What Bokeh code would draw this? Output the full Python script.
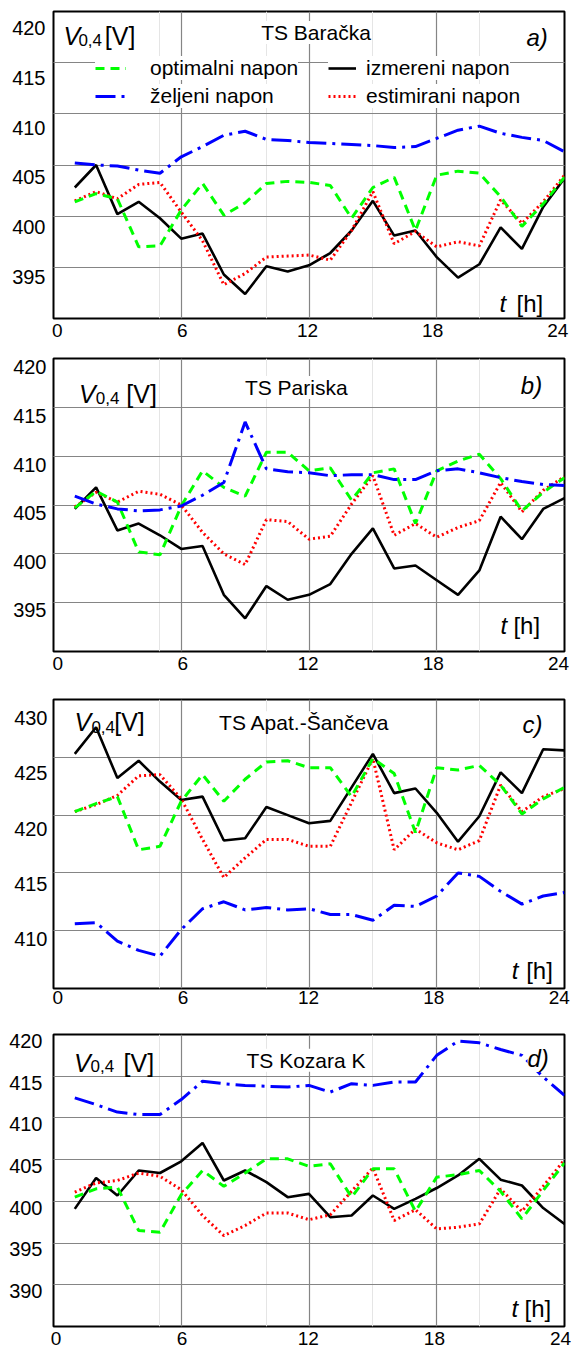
from bokeh.plotting import figure
from bokeh.models import Range1d, LinearAxis, Grid, FixedTicker, Label, Legend, LegendItem
from bokeh.layouts import column
from bokeh.embed import file_html
from bokeh.resources import INLINE

hours = list(range(1, 25))
x_ticks = [0, 6, 12, 18, 24]
legend_labels = ["optimalni napon", "izmereni napon", "željeni napon", "estimirani napon"]

# Panel a) TS Baračka
a_title = "TS Baračka"
a_yticks = [395, 400, 405, 410, 415, 420]
a_optimalni = [401.4, 402.2, 401.7, 397.0, 397.1, 400.6, 403.2, 400.1, 401.3, 403.2, 403.4, 403.3,
               403.0, 399.8, 402.8, 403.8, 398.6, 404.0, 404.4, 404.2, 401.9, 399.0, 401.2, 403.8]
a_izmereni = [402.8, 405.0, 400.2, 401.4, 399.8, 397.8, 398.3, 394.3, 392.4, 395.1, 394.6, 395.2,
              396.4, 398.6, 401.5, 398.1, 398.6, 396.0, 394.0, 395.3, 398.9, 396.8, 400.9, 403.7]
a_zeljeni = [405.2, 405.0, 404.9, 404.5, 404.2, 405.8, 406.8, 407.9, 408.3, 407.5, 407.4, 407.2,
             407.1, 407.0, 406.9, 406.7, 406.8, 407.6, 408.4, 408.8, 408.1, 407.7, 407.4, 406.3]
a_estimirani = [401.5, 402.4, 401.7, 403.1, 403.3, 400.4, 397.6, 393.3, 394.4, 396.0, 396.1, 396.2,
                395.7, 398.6, 402.4, 397.3, 398.5, 397.0, 397.5, 397.1, 401.6, 399.3, 401.4, 404.0]

# Panel b) TS Pariska
b_title = "TS Pariska"
b_yticks = [395, 400, 405, 410, 415, 420]
b_optimalni = [404.7, 406.4, 405.3, 400.2, 399.9, 404.9, 408.5, 406.8, 405.9, 410.4, 410.4, 408.5,
               408.8, 405.5, 408.3, 408.7, 403.1, 408.5, 409.5, 410.2, 407.7, 404.4, 406.3, 407.8]
b_izmereni = [404.6, 406.8, 402.4, 403.1, 401.9, 400.5, 400.8, 395.8, 393.4, 396.7, 395.3, 395.8,
              396.9, 400.0, 402.6, 398.5, 398.8, 397.3, 395.8, 398.3, 403.8, 401.5, 404.6, 405.7]
b_zeljeni = [405.9, 405.1, 404.6, 404.4, 404.5, 404.9, 406.0, 407.3, 413.5, 408.7, 408.4, 408.3,
             408.0, 408.1, 408.1, 407.6, 407.6, 408.5, 408.7, 408.3, 407.8, 407.4, 407.1, 407.0]
b_estimirani = [404.8, 406.3, 405.3, 406.4, 406.1, 405.0, 402.2, 400.0, 398.9, 403.5, 403.3, 401.5,
                401.8, 405.1, 408.0, 401.9, 403.1, 401.7, 402.7, 403.4, 407.3, 404.3, 406.5, 407.9]

# Panel c) TS Apat.-Šančeva
c_title = "TS Apat.-Šančeva"
c_yticks = [410, 415, 420, 425, 430]
c_optimalni = [420.3, 421.0, 421.6, 417.0, 417.3, 421.2, 423.5, 421.2, 423.1, 424.6, 424.7, 424.1,
               424.1, 421.6, 424.9, 423.6, 418.5, 424.1, 423.9, 424.3, 422.6, 420.1, 421.4, 422.4]
c_izmereni = [425.3, 427.6, 423.2, 424.7, 422.9, 421.3, 421.6, 417.8, 418.0, 420.7, 420.0, 419.3,
              419.5, 422.4, 425.3, 421.9, 422.3, 420.2, 417.7, 419.9, 423.7, 421.9, 425.7, 425.6]
c_zeljeni = [410.6, 410.7, 409.1, 408.3, 407.8, 410.1, 411.9, 412.5, 411.8, 412.0, 411.8, 411.9,
             411.4, 411.4, 410.9, 412.2, 412.1, 413.0, 415.0, 414.7, 413.4, 412.3, 413.0, 413.3]
c_estimirani = [420.3, 420.9, 421.7, 423.4, 423.5, 421.4, 417.9, 414.6, 416.3, 417.9, 417.9, 417.3,
                417.3, 421.1, 424.9, 417.0, 418.8, 417.6, 417.0, 417.8, 422.6, 420.3, 421.6, 422.3]

# Panel d) TS Kozara K
d_title = "TS Kozara K"
d_yticks = [390, 395, 400, 405, 410, 415, 420]
d_optimalni = [400.5, 401.5, 401.7, 396.5, 396.3, 400.8, 403.7, 401.8, 403.4, 405.1, 405.1, 404.2,
               404.5, 400.5, 403.9, 403.9, 398.8, 402.9, 403.2, 403.7, 401.2, 397.9, 401.3, 404.6]
d_izmereni = [399.1, 402.8, 400.7, 403.7, 403.4, 404.8, 407.0, 402.5, 403.7, 402.3, 400.5, 400.9,
              398.1, 398.3, 400.7, 399.1, 400.3, 401.6, 403.1, 405.1, 402.6, 401.9, 399.2, 397.3]
d_zeljeni = [412.4, 411.6, 410.7, 410.4, 410.4, 412.2, 414.4, 414.1, 413.9, 413.8, 413.7, 413.9,
             413.1, 414.1, 413.9, 414.3, 414.3, 417.5, 419.2, 419.0, 418.2, 417.5, 414.9, 412.7]
d_estimirani = [401.1, 402.2, 402.5, 403.4, 403.0, 401.4, 398.3, 395.9, 397.1, 398.6, 398.6, 397.8,
                398.4, 401.2, 404.0, 397.7, 399.0, 396.7, 396.9, 397.3, 401.5, 398.8, 401.8, 405.0]

FONT = "Liberation Sans"

panels = [
    dict(title=a_title, letter="a)", opt=a_optimalni, meas=a_izmereni, des=a_zeljeni, est=a_estimirani,
         yr=(390, 420), yticks=a_yticks, xl=(-0.176, 24.32), yl=(390.87, 421.63),
         height=345, bl=53, br=7, bt=11, bb=27, xs=5, ys=8,
         title_xy=(12.33, 417.95), letter_xy=(22.21, 417.46),
         v_xy=(0.47, 417.63), sub_xy=(1.17, 417.24), br_xy=(2.41, 417.63), br_text="[V]",
         t_xy=(20.95, 391.48), h_xy=(21.75, 391.48), legend=True),
    dict(title=b_title, letter="b)", opt=b_optimalni, meas=b_izmereni, des=b_zeljeni, est=b_estimirani,
         yr=(390, 420), yticks=b_yticks, xl=(-0.2, 24.29), yl=(390.78, 420.92),
         height=333, bl=51, br=8, bt=13, bb=27, xs=5, ys=7,
         title_xy=(11.4, 417.03), letter_xy=(21.95, 417.21),
         v_xy=(1.2, 416.39), sub_xy=(1.99, 415.98), br_xy=(3.42, 416.39), br_text="[V]",
         t_xy=(20.99, 392.67), h_xy=(21.6, 392.67), legend=False),
    dict(title=c_title, letter="c)", opt=c_optimalni, meas=c_izmereni, des=c_zeljeni, est=c_estimirani,
         yr=(405, 430), yticks=c_yticks, xl=(-0.2, 24.25), yl=(405.58, 431.63),
         height=334, bl=49, br=10, bt=21, bb=24, xs=2, ys=6,
         title_xy=(11.78, 427.99), letter_xy=(22.03, 427.84),
         v_xy=(0.99, 428.02), sub_xy=(1.78, 427.59), br_xy=(2.85, 428.02), br_text="[V]",
         t_xy=(21.52, 406.58), h_xy=(22.2, 406.58), legend=False),
    dict(title=d_title, letter="d)", opt=d_optimalni, meas=d_izmereni, des=d_zeljeni, est=d_estimirani,
         yr=(385, 420), yticks=d_yticks, xl=(-0.12, 24.19), yl=(385.7, 420.8),
         height=341, bl=48, br=11, bt=22, bb=27, xs=5, ys=11,
         title_xy=(11.86, 416.92), letter_xy=(22.26, 417.13),
         v_xy=(0.96, 416.56), sub_xy=(1.74, 416.2), br_xy=(3.29, 416.56), br_text="[V]",
         t_xy=(21.51, 387.12), h_xy=(22.12, 387.12), legend=False),
]


def style_axis(ax, standoff, size):
    ax.axis_line_color = None
    ax.major_tick_line_color = None
    ax.minor_tick_line_color = None
    ax.major_tick_in = 0
    ax.major_tick_out = 0
    ax.major_label_standoff = standoff
    ax.major_label_text_font = FONT
    ax.major_label_text_font_size = size
    ax.major_label_text_color = "black"


def add_label(p, xy, text, size, style="normal", align="left", baseline="middle", bg=None):
    kw = {}
    if bg:
        kw = dict(background_fill_color=bg, background_fill_alpha=1.0)
    p.add_layout(Label(x=xy[0], y=xy[1], text=text, text_font=FONT, text_font_size=size,
                       text_font_style=style, text_align=align, text_baseline=baseline,
                       text_color="black", **kw))


def make_panel(c):
    p = figure(width=575, height=c["height"], x_range=Range1d(0, 24), y_range=Range1d(*c["yr"]),
               x_axis_location=None, y_axis_location=None, toolbar_location=None,
               output_backend="svg", min_border_left=c["bl"], min_border_right=c["br"],
               min_border_top=c["bt"], min_border_bottom=c["bb"])
    p.outline_line_color = "black"
    p.outline_line_width = 2
    p.outline_line_alpha = 1.0
    p.background_fill_color = "white"
    p.border_fill_color = "white"

    p.extra_x_ranges = {"xl": Range1d(*c["xl"])}
    p.extra_y_ranges = {"yl": Range1d(*c["yl"])}

    grid_kw = dict(grid_line_color="#858585", grid_line_width=1.2)
    p.add_layout(Grid(dimension=0, ticker=FixedTicker(ticks=x_ticks), **grid_kw))
    p.add_layout(Grid(dimension=1, ticker=FixedTicker(ticks=c["yticks"]), **grid_kw))

    xa = LinearAxis(x_range_name="xl", ticker=FixedTicker(ticks=x_ticks))
    style_axis(xa, c["xs"], "19px")
    p.add_layout(xa, "below")
    ya = LinearAxis(y_range_name="yl", ticker=FixedTicker(ticks=c["yticks"]))
    style_axis(ya, c["ys"], "20px")
    p.add_layout(ya, "left")

    r_meas = p.line(hours, c["meas"], line_color="black", line_width=2.6)
    r_est = p.line(hours, c["est"], line_color="#FF0000", line_width=3, line_dash="2 3")
    r_opt = p.line(hours, c["opt"], line_color="#00FF00", line_width=3, line_dash="9 6")
    r_des = p.line(hours, c["des"], line_color="#0000FF", line_width=3, line_dash="20 6 3 6")

    add_label(p, c["title_xy"], c["title"], "21px", align="center", bg="white")
    add_label(p, c["letter_xy"], c["letter"], "24px", style="italic", bg="white")
    add_label(p, c["v_xy"], "V", "25px", style="italic", baseline="alphabetic")
    add_label(p, c["sub_xy"], "0,4", "17px", baseline="alphabetic")
    add_label(p, c["br_xy"], c["br_text"], "25px", baseline="alphabetic")
    add_label(p, c["t_xy"], "t", "24px", style="italic")
    add_label(p, c["h_xy"], "[h]", "24px")

    if c["legend"]:
        rs = [r_opt, r_meas, r_des, r_est]
        specs = [(42, 238, 31, 24), (275, 238, 28, 10), (42, 210, 31, 24), (275, 210, 28, 10)]
        for lab, r, (vx, vy, gw, st) in zip(legend_labels, rs, specs):
            leg = Legend(items=[LegendItem(label=lab, renderers=[r])], location=(vx, vy),
                         glyph_width=gw, glyph_height=24, label_height=24, label_standoff=st,
                         padding=0, margin=0, spacing=0, border_line_color=None,
                         background_fill_color="white", background_fill_alpha=1.0,
                         label_text_font=FONT, label_text_font_size="21px",
                         label_text_color="black")
            p.add_layout(leg)
    return p


layout = column(*[make_panel(c) for c in panels], spacing=0)
open("out.html", "w").write(file_html(layout, INLINE))
